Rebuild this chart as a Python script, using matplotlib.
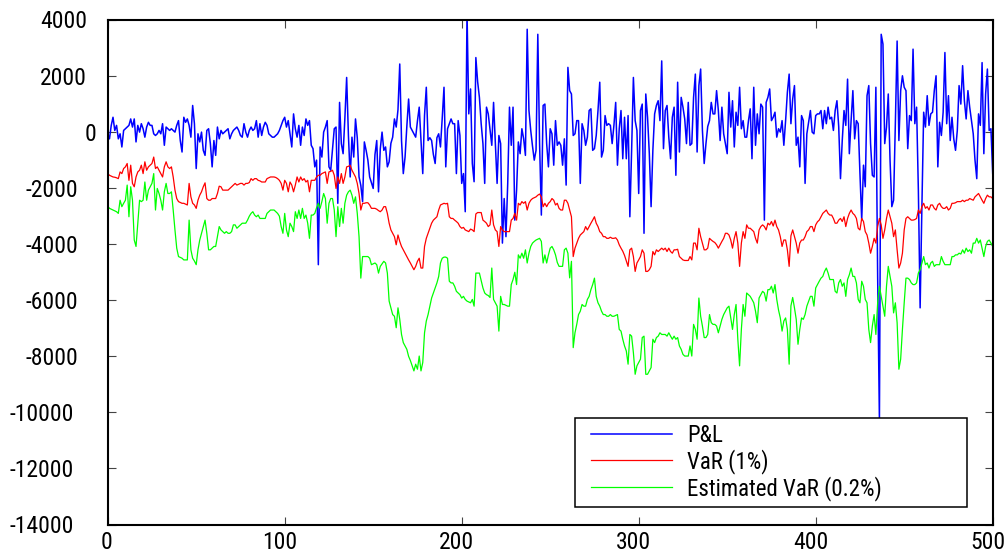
import numpy as np
import matplotlib
matplotlib.use("Agg")
import matplotlib.pyplot as plt
from matplotlib import font_manager
from matplotlib.font_manager import FontProperties
from matplotlib.legend_handler import HandlerLine2D
from matplotlib.lines import Line2D

# daily P&L and the two VaR series (day 0..500)
pnl = [
    -60, -240, 240, 530, 60, 240, -240, -60, -530, 60,
    120, 180, 240, 470, 180, 470, -350, 240, 0, 300,
    120, -180, 180, 350, 240, 240, -60, -120, -60, 60,
    -60, 300, -470, 180, 120, 60, 120, 60, 0, 240,
    410, -300, -710, 530, 350, 470, 240, -180, 950, 300,
    -1300, -60, -350, 0, -650, -830, 60, 120, -410, -1240,
    -300, -830, 180, -240, 60, -60, 0, 60, 120, -240,
    -60, 60, 120, 180, 60, -120, -180, 300, 0, -180,
    60, 180, 60, 120, 410, -180, 300, -120, 180, 350,
    240, -60, -120, -180, -180, -120, -60, 60, 240, 410,
    530, 180, 410, -60, -530, 650, 120, -180, 240, -470,
    180, -120, 470, 240, 410, -470, -590, -1240, -1000, -4730,
    -530, -890, 0, 180, 410, -1240, -1360, -600, 120, 180,
    -2540, 1060, -410, -770, 500, 1950, -120, -1600, -180, -890,
    470, -200, -1600, -1900, -2480, -350, -650, -1000, -1600, -1800,
    -2010, -800, -300, -2130, -600, 0, -650, -530, -1240, -1060,
    -400, -180, 470, 180, 800, 2430, -300, -1480, -890, 200,
    1180, 180, 60, -60, -180, 400, 890, -300, -1480, 600,
    1600, -300, -200, -300, -800, -1120, -200, -60, -530, 500,
    1600, -1240, 120, 300, 470, 300, 300, -1480, 410, -120,
    -1830, -1480, -2840, 4300, 650, 1540, -1120, -1770, 2660, 1800,
    1240, 300, -410, -1830, 890, 650, 100, -470, 1060, -400,
    -1830, -120, -410, -3960, -2370, -3730, -1830, 890, -470, 890,
    -3140, -2070, -350, -770, 120, -240, -830, 3670, 770, 60,
    -500, -1000, -650, 3490, -410, -2960, 950, 1000, -410, -1240,
    120, -60, -1180, 410, -470, -350, -470, -1180, -240, -1890,
    2310, 1480, 1360, -120, -60, 410, 410, -1830, 300, 60,
    -470, -180, 770, 830, -650, -590, -120, 770, 1780, -890,
    -650, 590, 240, 300, 240, -410, 240, 1060, -1180, 120,
    770, -950, 530, -950, 590, -3020, -650, 1950, 410, 60,
    -2190, 770, 1000, -3610, 1360, 530, -770, -2660, -650, 650,
    950, 1120, 410, 2540, -590, 770, 950, -180, -950, 530,
    890, -1540, 1780, -710, 1240, 890, 470, -410, 1060, -470,
    -410, 1240, 2070, -710, 1660, 2250, 60, -1120, -410, 200,
    410, 1060, 650, 650, 1480, 770, -300, 890, -60, -410,
    -770, 1420, 180, 1120, -530, 710, 240, 1600, 120, 410,
    -180, -180, 400, 830, -950, 1600, -470, 650, -60, 1000,
    890, -3140, 1060, 1240, 1540, 410, 530, 710, -180, 120,
    0, 410, -470, 410, 1420, 2070, 300, 1180, 1660, -470,
    -180, -1240, 590, 410, -1830, -60, 350, 770, 0, -60,
    590, 650, 650, 770, 120, 770, 300, 890, 470, 530,
    60, 770, 1120, 200, -1660, -300, 770, 240, 1890, -770,
    410, 1480, -240, 410, 300, -1480, -3140, -1180, -1950, 1300,
    1660, -410, -1540, -1600, 1600, -5150, -10300, 3490, 3140, -410,
    180, 1360, -1000, -2660, -2430, 300, 3250, -300, 1480, 2010,
    1600, 1480, -590, 590, 410, 2960, 300, 890, -2070, -6270,
    -2660, 710, 180, 1300, 240, 650, 710, 1480, 2010, -1240,
    350, -120, 710, 2840, 300, 1300, -300, 530, -240, -650,
    60, 1660, 1000, 2370, 1120, 470, 1480, 890, 410, -60,
    -1000, -1660, 650, 240, 2480, -770, 1360, 2250, 60, 120,
    -1480,
]

var_1 = [
    -1480, -1540, -1570, -1600, -1610, -1630, -1660, -1420, -1480, -1300,
    -1240, -1120, -1720, -1180, -1830, -1950, -1600, -1420, -1360, -1180,
    -1480, -1060, -1360, -1240, -1180, -1120, -890, -1300, -1240, -1360,
    -1480, -1600, -1240, -1060, -1240, -1300, -1240, -1600, -2070, -2370,
    -2480, -2510, -2540, -2540, -2570, -2600, -1830, -2310, -2540, -2600,
    -2720, -2430, -2250, -2130, -1950, -1810, -2370, -2430, -2430, -2370,
    -2370, -2370, -2190, -1930, -1950, -2070, -2070, -2070, -2070, -2010,
    -1950, -1890, -1830, -1890, -1860, -1830, -1830, -1890, -1830, -1830,
    -1800, -1660, -1720, -1660, -1660, -1720, -1740, -1780, -1780, -1780,
    -1660, -1630, -1600, -1600, -1600, -1620, -1660, -1720, -1830, -2070,
    -1720, -1830, -2130, -1780, -1890, -2130, -1890, -1600, -1780, -1600,
    -1720, -1660, -1780, -1720, -2130, -1720, -1720, -1720, -1600, -1540,
    -1540, -1480, -1450, -1420, -1830, -1420, -1400, -1360, -1540, -2010,
    -1600, -1830, -1480, -1830, -1600, -1240, -1220, -1180, -1360, -1480,
    -1600, -1830, -2190, -2780, -2540, -2540, -2520, -2520, -2600, -2720,
    -2720, -2720, -2750, -2800, -2840, -2780, -2660, -2660, -2900, -3250,
    -3490, -3610, -3730, -4020, -3670, -3900, -4080, -4200, -4320, -4440,
    -4560, -4670, -4790, -4910, -4790, -4610, -4500, -4850, -4850, -4080,
    -3790, -3610, -3430, -3250, -3140, -3080, -3020, -2780, -2600, -2570,
    -2540, -2560, -2540, -3020, -3080, -3080, -3140, -3190, -3250, -3370,
    -3430, -3400, -3490, -3520, -3550, -3460, -3490, -3550, -2920, -2870,
    -2870, -2870, -3140, -3190, -3250, -3370, -3310, -2780, -3310, -3490,
    -3550, -4080, -3370, -3490, -3550, -3550, -3550, -3550, -3140, -3080,
    -2900, -3140, -2540, -2600, -2480, -2540, -2480, -2780, -2540, -2430,
    -2370, -2340, -2310, -2250, -2210, -2310, -2660, -2540, -2660, -2540,
    -2480, -2370, -2430, -2600, -2540, -2720, -2780, -2780, -2430, -2430,
    -2540, -2780, -3020, -4440, -4140, -3960, -3790, -3670, -3610, -3550,
    -3370, -3490, -3370, -3250, -3140, -3020, -3250, -3370, -3550, -3610,
    -3730, -3730, -3790, -3790, -3750, -3790, -3790, -3770, -3850, -4020,
    -4140, -4250, -4400, -4600, -4790, -4200, -4140, -4440, -4970, -4670,
    -4560, -4440, -4200, -4320, -4970, -4970, -4910, -4790, -4260, -4380,
    -4200, -4260, -4200, -4140, -4200, -4140, -4260, -4140, -4260, -4320,
    -4200, -4200, -4180, -4440, -4500, -4560, -4580, -4580, -4580, -4440,
    -4560, -3960, -3960, -4200, -3430, -3730, -3960, -4200, -4200, -4140,
    -3790, -3850, -3900, -3940, -4020, -4140, -4020, -3900, -3790, -3610,
    -3610, -3670, -3850, -4140, -3790, -3550, -3960, -4790, -3960, -3550,
    -3790, -3310, -3430, -3430, -3490, -3550, -3790, -3960, -3490, -3370,
    -3310, -3370, -3490, -3250, -3310, -3190, -3350, -3140, -3370, -3490,
    -3730, -4080, -3850, -3850, -4200, -4790, -3700, -3490, -3730, -3960,
    -4320, -3960, -3850, -3850, -3730, -3550, -3490, -3370, -3370, -3550,
    -3310, -3200, -3140, -3020, -2900, -2840, -2780, -2900, -2960, -2960,
    -3080, -3250, -3250, -3140, -3080, -3190, -3020, -3370, -3080, -2900,
    -2780, -2900, -2960, -3080, -3430, -3490, -3080, -3190, -3550, -3670,
    -3960, -4320, -4080, -3790, -3960, -3370, -3080, -3310, -3790, -3490,
    -3080, -2780, -3020, -3250, -3730, -3490, -4200, -4850, -4670, -4320,
    -3490, -3080, -3020, -3080, -3140, -3140, -3120, -3080, -2780, -2900,
    -2660, -2540, -2720, -2660, -2780, -2600, -2600, -2720, -2780, -2600,
    -2540, -2660, -2720, -2720, -2660, -2780, -2720, -2540, -2540, -2520,
    -2480, -2480, -2480, -2430, -2480, -2430, -2430, -2370, -2400, -2430,
    -2310, -2250, -2190, -2310, -2430, -2540, -2370, -2250, -2310, -2310,
    -2370,
]

var_est = [
    -2640, -2720, -2750, -2780, -2810, -2840, -2900, -2430, -2660, -2540,
    -2430, -1890, -3020, -1950, -2430, -3850, -4080, -3250, -2430, -2480,
    -2430, -1780, -2430, -2070, -1950, -1830, -1480, -2780, -2010, -2190,
    -2430, -2780, -2130, -1830, -2190, -2190, -2130, -2780, -3490, -4140,
    -4440, -4470, -4500, -4560, -4560, -4560, -3140, -4200, -4500, -4600,
    -4730, -4200, -3850, -3610, -3370, -3140, -3610, -4200, -4200, -4140,
    -4080, -4080, -3730, -3370, -3490, -3550, -3610, -3550, -3610, -3610,
    -3550, -3310, -3310, -3430, -3370, -3310, -3250, -3250, -3250, -3140,
    -3000, -2900, -2840, -2960, -3020, -2960, -3080, -3080, -3080, -3080,
    -2900, -2840, -2780, -2780, -2780, -2840, -2900, -3000, -3370, -3610,
    -2900, -3490, -3730, -3250, -3370, -3550, -2840, -3080, -2780, -3080,
    -2720, -3080, -2960, -3250, -3790, -2960, -2960, -2900, -2700, -2540,
    -2720, -2480, -2190, -2370, -3250, -2540, -2370, -2370, -2780, -3730,
    -2660, -3370, -2720, -3250, -2540, -2250, -2130, -2070, -2250, -2540,
    -2310, -2900, -3730, -5210, -4440, -4440, -4440, -4440, -4500, -4730,
    -4700, -4670, -4730, -5030, -4790, -4700, -4610, -4670, -5030, -6030,
    -6270, -6510, -6570, -6980, -6270, -6680, -7220, -7510, -7630, -7750,
    -8000, -8150, -8340, -8520, -8280, -8460, -7990, -8520, -8220, -7160,
    -6740, -6510, -6210, -5920, -5740, -5560, -5380, -5150, -4670, -4500,
    -4460, -4460, -4500, -5320, -5380, -5380, -5500, -5680, -5740, -5800,
    -5920, -5860, -5970, -6030, -6060, -6090, -5970, -6210, -5030, -5030,
    -5030, -5300, -5560, -5740, -5800, -5830, -5900, -4850, -5970, -6090,
    -6210, -7100, -5860, -6150, -6150, -6180, -6210, -6210, -5440, -5260,
    -5000, -5440, -4380, -4500, -4320, -4500, -4200, -4670, -4320, -4080,
    -3960, -3900, -3850, -3820, -3790, -3900, -4670, -4380, -4670, -4380,
    -4140, -4080, -4200, -4380, -4650, -4790, -4790, -4790, -4200, -4140,
    -4320, -5200, -4610, -7690, -7160, -6860, -6510, -6390, -6150, -6210,
    -6210, -5970, -5860, -5620, -5440, -5210, -5860, -6090, -6210, -6390,
    -6510, -6510, -6570, -6570, -6510, -6570, -6570, -6540, -6510, -7040,
    -7100, -7390, -7630, -7810, -8280, -7220, -7280, -7870, -8640, -8340,
    -8220, -8100, -7330, -7280, -8640, -8640, -8520, -8400, -7390, -7510,
    -7330, -7280, -7160, -7220, -7220, -7220, -7280, -7160, -7280, -7390,
    -7280, -7390, -7330, -7630, -7750, -7930, -7990, -7990, -7990, -7630,
    -7990, -6860, -7040, -7390, -5920, -6570, -6920, -7330, -7330, -7220,
    -6510, -6800, -6860, -6860, -6920, -7160, -6920, -6680, -6510, -6390,
    -6270, -6210, -6630, -7040, -6510, -6150, -7390, -8340, -7040, -6150,
    -6570, -5740, -5800, -5860, -5970, -6090, -6390, -6800, -5920, -5800,
    -5680, -5740, -6030, -5620, -5620, -5500, -5740, -5440, -5970, -6350,
    -6630, -7100, -6740, -6630, -7040, -8280, -6200, -5900, -6270, -6680,
    -7570, -7040, -6630, -6680, -6510, -6210, -6030, -5860, -5860, -6210,
    -5560, -5440, -5320, -5210, -5150, -4970, -4850, -5030, -5260, -5260,
    -5260, -5680, -5740, -5380, -5260, -5500, -5380, -5860, -5260, -5090,
    -4850, -5150, -5150, -5380, -5970, -6090, -5320, -5500, -5970, -6090,
    -7040, -7510, -6920, -6510, -7220, -6090, -5500, -5860, -6210, -6570,
    -5500, -4790, -5150, -5500, -6450, -6090, -6800, -8460, -8100, -7040,
    -6090, -5210, -5210, -5260, -5380, -5440, -5440, -5380, -5030, -4910,
    -4670, -4440, -4730, -4670, -4850, -4670, -4610, -4790, -4730, -4730,
    -4730, -4440, -4610, -4730, -4730, -4730, -4730, -4440, -4440, -4380,
    -4380, -4320, -4350, -4200, -4320, -4140, -4260, -4200, -4320, -3960,
    -3960, -3790, -3960, -3850, -4140, -4440, -4080, -3900, -3850, -3960,
    -4080,
]

labels = ["P&L", "VaR (1%)", "Estimated VaR (0.2%)"]
x_ticks = [0, 100, 200, 300, 400, 500]
y_ticks = [-14000, -12000, -10000, -8000, -6000, -4000, -2000, 0, 2000, 4000]


def first_font(names):
    for name in names:
        try:
            font_manager.findfont(FontProperties(family=name), fallback_to_default=False)
            return name
        except ValueError:
            continue
    return "DejaVu Sans"


# the original uses a narrow Arial-like face
FONT = first_font(["Liberation Sans Narrow", "Arial Narrow", "Roboto Condensed",
                   "Archivo Narrow", "Liberation Sans"])
plt.rcParams["font.family"] = [FONT, "DejaVu Sans"]
plt.rcParams["axes.unicode_minus"] = False


class InsetLine(HandlerLine2D):
    """Legend line that starts a little to the right of the frame padding."""

    def __init__(self, inset, **kw):
        super().__init__(**kw)
        self.inset = inset

    def create_artists(self, legend, orig_handle, xdescent, ydescent,
                       width, height, fontsize, trans):
        return super().create_artists(legend, orig_handle, xdescent - self.inset,
                                      ydescent, width - self.inset, height,
                                      fontsize, trans)


fig = plt.figure(figsize=(10.08, 5.54), dpi=100)
ax = fig.add_axes([107.7 / 1008, 29.5 / 554, 885 / 1008, 504.5 / 554])

ax.plot(np.arange(len(pnl)), pnl, color="#0000ff", lw=1.1, label=labels[0])
ax.plot(np.arange(len(var_1)), var_1, color="#ff0000", lw=0.9, label=labels[1])
ax.plot(np.arange(len(var_est)), var_est, color="#00ff00", lw=0.9, label=labels[2])

ax.set_xlim(0, 500)
ax.set_ylim(-14000, 4000)
ax.set_xticks(x_ticks)
ax.set_yticks(y_ticks)
ax.tick_params(direction="in", length=6, width=0.8, color="#444444",
               top=True, right=True, labelleft=False, labelbottom=False)
for sp in ax.spines.values():
    sp.set_linewidth(1.5)

# the original lays its tick labels out with wide nominal glyphs but draws them
# condensed, so each label starts where a 15 px-per-character string would start
CHAR_W = 15
for v in y_ticks:
    s = str(v)
    ax.annotate(s, xy=(0, v), xycoords=ax.get_yaxis_transform(),
                xytext=(-7.7 - CHAR_W * len(s), -8.5), textcoords="offset pixels",
                ha="left", va="baseline", fontsize=17, annotation_clip=False)
for v in x_ticks:
    s = str(v)
    ax.annotate(s, xy=(v, 0), xycoords=ax.get_xaxis_transform(),
                xytext=(-CHAR_W / 2 * len(s), -24.5), textcoords="offset pixels",
                ha="left", va="baseline", fontsize=17, annotation_clip=False)

leg = ax.legend(handler_map={Line2D: InsetLine(7.2)}, loc="lower left",
                bbox_to_anchor=(575 / 1008, 47 / 554, 392 / 1008, 90 / 554),
                bbox_transform=fig.transFigure, mode="expand", borderaxespad=0,
                borderpad=0.28, labelspacing=0.07, handlelength=3.97,
                handletextpad=0.65, fontsize=16.5, fancybox=False,
                edgecolor="black", framealpha=1)
leg.get_frame().set_linewidth(1.1)

fig.savefig("out.png", dpi=100)
